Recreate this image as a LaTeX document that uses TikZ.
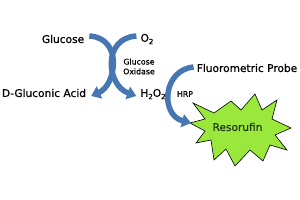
\documentclass[tikz,border=0pt]{standalone}
\usepackage{fontspec}
\usetikzlibrary{arrows.meta,calc}
\newfontfamily\lblfont{DejaVu Sans}[FakeBold=0.8]
\newcommand{\subtxt}[1]{\raisebox{-0.4ex}{\fontsize{7}{7}\selectfont #1}}
\definecolor{arrowblue}{HTML}{4677B3}
\definecolor{burstgreen}{HTML}{9AE83C}
\definecolor{resdark}{HTML}{1E3A14}
\begin{document}
\begin{tikzpicture}[x=1pt,y=-1pt,
  lbl/.style={font=\lblfont\fontsize{10.6}{12}\selectfont, inner sep=0pt},
  small/.style={font=\lblfont\fontsize{7.8}{9.8}\selectfont, inner sep=0pt, align=center},
  flow/.style={line width=5.5pt, draw=arrowblue, -{Triangle[width=13pt,length=9pt]}},
  burst/.style={fill=burstgreen, draw=black, line width=0.6pt, line join=miter}
]
\useasboundingbox (0,0) rectangle (300,200);
\fill[white] (0,0) rectangle (300,200);

\node[lbl] (glc) at (63,39) {Glucose};
\node[lbl] (o2) at (147,39) {O\subtxt{2}};
\node[small] (gox) at (139,66.5) {Glucose\\Oxidase};
\node[lbl] (dga) at (44,93) {D-Gluconic Acid};
\node[lbl] (h2o2) at (153,94) {H\subtxt{2}O\subtxt{2}};
\node[lbl] (probe) at (247,68) {Fluorometric Probe};
\node[small] (hrp) at (185,94) {HRP};

\draw[burst] (193,103) -- (214,113) -- (231,101) -- (241,110) -- (255,94) -- (262,110)
  -- (277,100) -- (272,119) -- (291,128) -- (275,135) -- (287,150) -- (270,145)
  -- (263,161) -- (250,150) -- (235,166) -- (226,149) -- (214,160) -- (211,140)
  -- (196,143) -- (205,131) -- (190,123) -- (205,119) -- cycle;
\coordinate (burstL) at (191,123);
\node[lbl, text=resdark] (res) at (237.5,127) {Resorufin};

\draw[flow] ($(glc.east)+(5,-3)$) .. controls +(34,2) and +(25,-11) .. ($(dga.east)+(5,3)$);
\draw[flow] ($(o2.west)+(-4,-3)$) .. controls +(-34,2) and +(-30,-11) .. ($(h2o2.west)+(-4,2)$);
\draw[flow] ($(probe.west)+(-3,-1)$) .. controls +(-31,3) and +(-31,-8) .. (burstL);
\end{tikzpicture}
\end{document}
